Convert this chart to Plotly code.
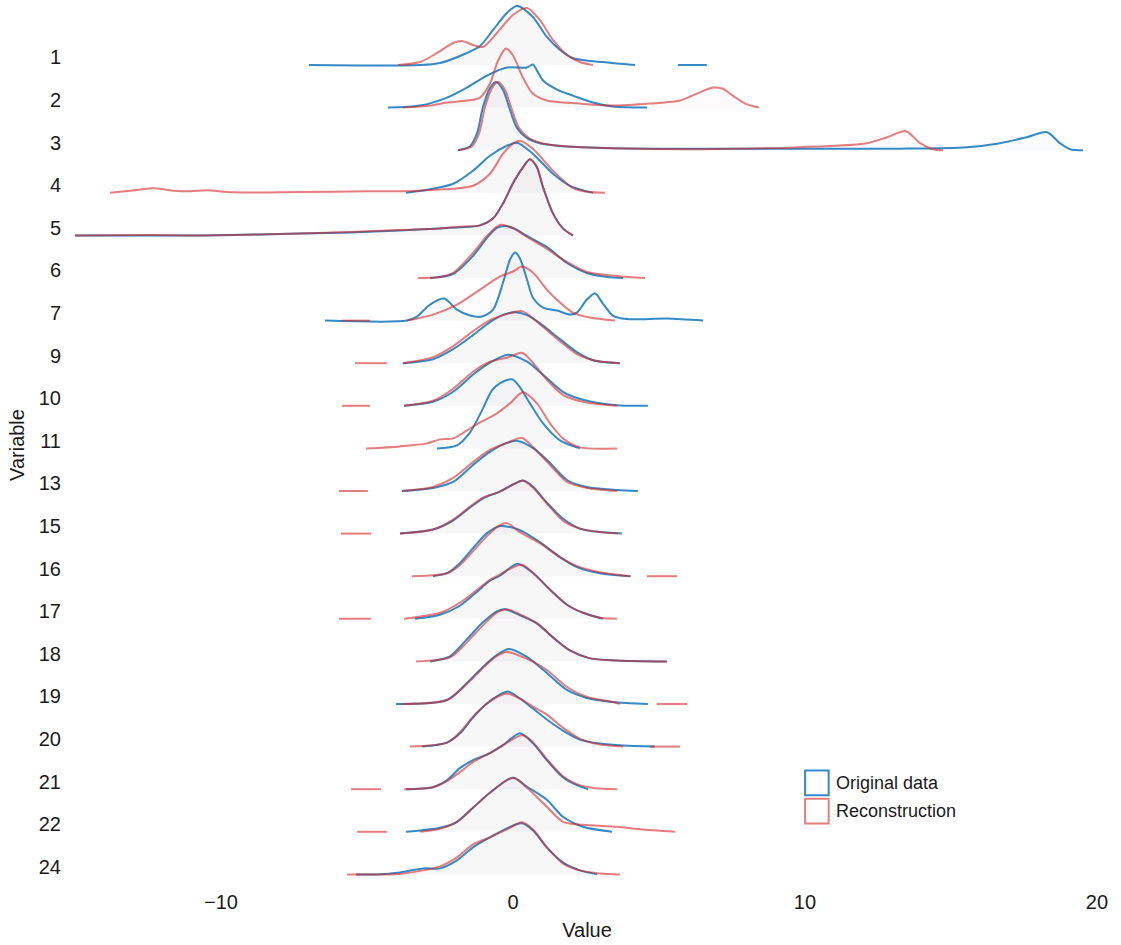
import plotly.graph_objects as go

# ---------------- data ----------------
ROWS = ["1", "2", "3", "4", "5", "6", "7", "9", "10", "11",
        "13", "15", "16", "17", "18", "19", "20", "21", "22", "24"]

X_TICKS = [-10, 0, 10, 20]

# Original data: x positions and density estimates per variable (None = gap)
orig_x = [
    [-6.99, -3.18, -2.50, -1.58, -1.13, -0.68, -0.21, 0.14, 0.68, 1.16, 1.61, 2.05, 2.64, 3.08, 3.56, 4.18, None, 5.65, 6.64],
    [-4.28, -3.18, -2.26, -1.58, -0.89, -0.21, 0.24, 0.48, 0.68, 0.86, 1.03, 1.51, 2.05, 2.74, 3.42, 4.59],
    [-1.88, -1.47, -1.23, -1.03, -0.79, -0.58, -0.34, -0.10, 0.14, 0.48, 0.92, 1.71, 3.42, 7.77, 13.25, 15.55, 16.68, 17.60, 18.29, 18.73, 19.08, 19.52],
    [-3.66, -2.74, -2.05, -1.37, -0.79, -0.21, 0.14, 0.68, 1.37, 1.95, 2.74],
    [-15.0, -12.43, -10.72, -8.66, -7.29, -5.58, -3.87, -2.50, -1.82, -1.13, -0.68, -0.34, 0.0, 0.34, 0.58, 0.82, 1.03, 1.37, 1.71, 2.05],
    [-2.84, -2.05, -1.37, -0.89, -0.55, -0.27, 0.07, 0.48, 1.16, 1.85, 2.53, 3.22, 3.77],
    [-6.44, -3.63, -3.29, -2.84, -2.36, -1.92, -1.47, -1.06, -0.68, -0.34, -0.10, 0.07, 0.24, 0.48, 0.68, 1.03, 1.51, 1.95, 2.19, 2.53, 2.81, 3.08, 3.42, 3.90, 5.27, 6.51],
    [-3.77, -2.74, -2.05, -1.37, -0.79, -0.27, 0.07, 0.48, 0.92, 1.61, 2.19, 2.74, 3.66],
    [-3.73, -2.74, -2.05, -1.37, -0.79, -0.17, 0.48, 1.03, 1.71, 2.40, 3.56, 4.62],
    [-2.60, -1.92, -1.47, -1.06, -0.72, -0.45, -0.03, 0.24, 0.58, 1.03, 1.61, 2.29],
    [-3.80, -2.74, -2.05, -1.37, -0.79, -0.21, 0.17, 0.68, 1.27, 1.85, 2.53, 3.56, 4.28],
    [-3.87, -2.74, -2.05, -1.47, -1.03, -0.45, 0.0, 0.34, 0.68, 1.16, 1.71, 2.29, 2.98, 3.73],
    [-2.74, -2.26, -1.82, -1.37, -0.89, -0.45, -0.10, 0.24, 0.92, 1.61, 2.19, 2.98, 4.01],
    [-3.36, -2.50, -1.82, -1.23, -0.79, -0.45, -0.10, 0.17, 0.68, 1.27, 1.85, 2.40, 3.08],
    [-2.84, -2.16, -1.58, -1.03, -0.55, -0.27, 0.24, 0.82, 1.37, 1.95, 2.64, 3.56, 5.27],
    [-4.01, -2.26, -1.58, -1.03, -0.55, -0.14, 0.48, 1.16, 1.85, 2.53, 3.42, 4.62],
    [-3.12, -2.26, -1.82, -1.37, -0.89, -0.45, -0.17, 0.24, 0.68, 1.16, 1.71, 2.29, 2.98, 3.77, 4.86],
    [-3.66, -2.74, -2.26, -1.82, -1.37, -0.79, -0.34, 0.24, 0.68, 1.16, 1.71, 2.19, 2.57],
    [-3.66, -2.50, -1.92, -1.37, -0.79, 0.0, 0.48, 1.16, 1.71, 2.40, 3.39],
    [-5.38, -4.66, -3.87, -3.08, -2.50, -1.92, -1.37, -0.79, -0.21, 0.31, 0.68, 1.16, 1.71, 2.29, 2.88],
]
orig_d = [
    [0, 0, .02, .12, .19, .35, .52, .59, .48, .28, .15, .07, .04, .03, .015, 0, None, 0, 0],
    [0, .02, .10, .20, .32, .40, .40, .40, .43, .35, .27, .18, .12, .05, .01, 0],
    [0, .04, .17, .43, .62, .68, .60, .40, .22, .12, .07, .04, .02, .015, .015, .03, .07, .13, .18, .07, .01, 0],
    [0, .04, .09, .22, .37, .47, .50, .39, .19, .07, 0],
    [0, 0, 0, .01, .02, .03, .05, .07, .08, .10, .17, .32, .52, .68, .76, .68, .48, .22, .07, 0],
    [0, .04, .22, .40, .50, .52, .49, .42, .31, .15, .05, .01, 0],
    [0, 0, .04, .16, .22, .11, .05, .04, .11, .38, .61, .68, .62, .41, .23, .13, .10, .06, .08, .21, .27, .17, .05, .015, .02, 0],
    [0, .04, .14, .28, .41, .49, .51, .48, .40, .24, .11, .03, 0],
    [0, .04, .14, .31, .43, .51, .44, .31, .14, .06, .005, 0],
    [0, .03, .16, .38, .58, .65, .69, .61, .45, .25, .08, 0],
    [0, .03, .09, .26, .39, .48, .50, .43, .28, .11, .04, .01, 0],
    [0, .04, .13, .26, .35, .42, .49, .53, .47, .31, .15, .05, .015, 0],
    [0, .03, .13, .28, .43, .50, .49, .46, .34, .19, .09, .03, 0],
    [0, .04, .13, .27, .38, .43, .51, .55, .46, .29, .14, .06, 0],
    [0, .05, .22, .39, .50, .52, .46, .38, .24, .11, .03, .01, 0],
    [0, .04, .21, .37, .49, .55, .47, .31, .14, .06, .02, 0],
    [0, .04, .13, .29, .43, .52, .55, .48, .38, .27, .16, .07, .03, .01, 0],
    [0, .02, .09, .21, .29, .36, .44, .56, .46, .29, .12, .04, 0],
    [0, .04, .10, .24, .39, .54, .45, .32, .15, .05, 0],
    [0, 0, .02, .06, .06, .14, .27, .37, .46, .51, .44, .27, .12, .04, 0],
]

# Reconstruction
recon_x = [
    [-3.94, -3.18, -2.60, -2.05, -1.75, -1.37, -1.03, -0.55, 0.0, 0.48, 0.92, 1.37, 1.85, 2.29, 2.74],
    [-3.77, -2.84, -2.26, -1.58, -1.13, -0.79, -0.51, -0.24, 0.0, 0.34, 0.68, 1.16, 2.29, 3.42, 4.69, 5.72, 6.30, 6.85, 7.16, 7.53, 7.95, 8.42],
    [-1.88, -1.40, -1.16, -0.96, -0.72, -0.51, -0.27, -0.03, 0.21, 0.55, 0.99, 1.78, 3.42, 6.40, 9.83, 12.12, 12.81, 13.46, 13.94, 14.38, 14.73],
    [-13.80, -13.12, -12.33, -11.58, -11.06, -10.48, -9.59, -7.29, -5.00, -3.66, -2.74, -2.05, -1.37, -0.79, -0.34, 0.0, 0.24, 0.68, 1.37, 2.05, 2.53, 3.15],
    [-15.0, -12.43, -10.72, -8.66, -7.29, -5.58, -3.87, -2.50, -1.82, -1.13, -0.68, -0.34, 0.0, 0.34, 0.58, 0.82, 1.03, 1.37, 1.71, 2.05],
    [-3.25, -2.50, -2.05, -1.37, -0.89, -0.45, -0.03, 0.48, 1.16, 1.85, 2.53, 3.56, 4.52],
    [-5.86, -4.90, None, -3.63, -2.74, -1.92, -1.13, -0.45, 0.0, 0.31, 0.68, 1.16, 1.61, 2.05, 2.64, 3.49],
    [-5.41, -4.32, None, -3.77, -2.74, -2.05, -1.37, -0.79, -0.21, 0.31, 0.92, 1.61, 2.19, 2.74, 3.66],
    [-5.86, -4.90, None, -3.73, -2.74, -2.05, -1.37, -0.79, -0.21, 0.31, 0.68, 1.16, 1.71, 2.40, 3.56],
    [-5.03, -3.87, -2.95, -2.50, -2.05, -1.58, -1.13, -0.55, -0.10, 0.34, 0.82, 1.27, 1.71, 2.29, 3.56],
    [-5.96, -4.97, None, -3.80, -2.74, -2.05, -1.37, -0.79, -0.21, 0.31, 0.68, 1.27, 1.85, 2.53, 3.56],
    [-5.89, -4.86, None, -3.87, -2.74, -2.05, -1.47, -1.03, -0.45, 0.0, 0.34, 0.68, 1.16, 1.71, 2.29, 2.98, 3.60],
    [-3.46, -2.74, -2.26, -1.82, -1.37, -0.89, -0.55, -0.21, 0.24, 0.92, 1.61, 2.19, 2.98, 4.04, None, 4.59, 5.62],
    [-5.96, -4.86, None, -3.73, -2.50, -1.82, -1.23, -0.79, -0.45, -0.10, 0.31, 0.68, 1.27, 1.85, 2.40, 2.98, 3.56],
    [-3.32, -2.16, -1.58, -1.03, -0.55, -0.21, 0.24, 0.82, 1.37, 1.95, 2.64, 3.56, 5.27],
    [-3.80, -2.26, -1.58, -1.03, -0.55, -0.21, 0.48, 1.16, 1.85, 2.53, 3.42, 3.66, None, 4.93, 5.96],
    [-3.53, -2.26, -1.82, -1.37, -0.89, -0.45, -0.21, 0.24, 0.68, 1.16, 1.71, 2.29, 2.98, 3.77, None, 4.69, 5.72],
    [-5.55, -4.52, None, -3.73, -2.74, -2.26, -1.82, -1.37, -0.79, -0.34, 0.34, 0.68, 1.16, 1.71, 2.19, 2.81, 3.56],
    [-5.34, -4.32, None, -3.18, -2.50, -1.92, -1.37, -0.79, 0.0, 0.48, 1.16, 1.71, 2.40, 3.56, 4.35, 5.55],
    [-5.68, -3.87, -3.08, -2.50, -1.92, -1.37, -0.79, -0.21, 0.31, 0.68, 1.16, 1.71, 2.29, 2.98, 3.66],
]
recon_d = [
    [0, .03, .12, .22, .24, .20, .18, .32, .50, .57, .45, .25, .10, .03, 0],
    [0, .02, .05, .07, .10, .24, .47, .59, .52, .30, .14, .07, .04, .02, .04, .07, .14, .20, .19, .12, .04, 0],
    [0, .04, .17, .43, .62, .68, .60, .40, .22, .12, .07, .04, .02, .01, .03, .07, .13, .19, .07, .01, 0],
    [0, .02, .045, .02, .015, .025, .005, .008, .015, .015, .03, .04, .07, .19, .39, .49, .52, .44, .22, .05, .01, 0],
    [0, .005, 0, .01, .02, .035, .055, .07, .085, .10, .17, .32, .52, .68, .76, .68, .48, .22, .07, 0],
    [0, .01, .05, .25, .42, .53, .50, .41, .29, .16, .06, .02, 0],
    [0, 0, None, 0, .06, .16, .31, .44, .49, .54, .48, .31, .18, .08, .03, 0],
    [0, 0, None, 0, .06, .17, .32, .43, .49, .52, .39, .22, .09, .03, 0],
    [0, 0, None, 0, .05, .17, .34, .44, .48, .53, .43, .26, .11, .04, 0],
    [0, .02, .05, .09, .10, .18, .26, .35, .45, .56, .45, .25, .10, .01, 0],
    [0, 0, None, 0, .04, .13, .29, .41, .48, .53, .44, .26, .09, .03, 0],
    [0, 0, None, 0, .04, .14, .27, .36, .42, .49, .53, .46, .30, .13, .05, .015, 0],
    [0, .01, .03, .11, .25, .40, .49, .53, .44, .33, .19, .10, .04, 0, None, 0, 0],
    [0, 0, None, 0, .06, .16, .29, .39, .44, .50, .54, .46, .29, .14, .06, .01, 0],
    [0, .04, .19, .36, .49, .52, .47, .38, .24, .11, .03, .01, 0],
    [0, .04, .20, .36, .48, .52, .45, .34, .17, .07, .02, 0, None, 0, 0],
    [0, .04, .14, .30, .43, .51, .53, .48, .40, .32, .19, .08, .02, 0, None, 0, 0],
    [0, 0, None, 0, .02, .08, .17, .27, .36, .44, .54, .47, .30, .13, .05, .01, 0],
    [0, 0, None, 0, .03, .10, .24, .39, .54, .44, .25, .10, .07, .05, .025, 0],
    [0, .005, .04, .08, .17, .30, .37, .45, .52, .45, .27, .11, .04, .01, 0],
]

# ---------------- styling ----------------
BLUE = "rgb(52,138,199)"
RED = "rgba(214,39,40,0.6)"
BLUE_FILL = "rgba(120,140,180,0.035)"
RED_FILL = "rgba(200,130,140,0.03)"
SCALE = 2.35          # density -> row units
FONT = "Arial, Liberation Sans, sans-serif"
TXT = "#1a1a1a"

fig = go.Figure()


def ridge(xs, ds, base):
    ys = [None if d is None else base + d * SCALE for d in ds]
    return xs, ys


def fill_poly(xs, ds, base):
    pts = [(x, d) for x, d in zip(xs, ds) if x is not None]
    px = [p[0] for p in pts]
    py = [base + p[1] * SCALE for p in pts]
    return px + [px[-1], px[0], px[0]], py + [base, base, py[0]]


# faint fills standing in for the jittered raw points
for i in range(len(ROWS)):
    base = -i
    fx, fy = fill_poly(orig_x[i], orig_d[i], base)
    fig.add_trace(go.Scatter(x=fx, y=fy, mode="lines", fill="toself", fillcolor=BLUE_FILL,
                             line=dict(width=0), hoverinfo="skip", showlegend=False))
    fx, fy = fill_poly(recon_x[i], recon_d[i], base)
    fig.add_trace(go.Scatter(x=fx, y=fy, mode="lines", fill="toself", fillcolor=RED_FILL,
                             line=dict(width=0), hoverinfo="skip", showlegend=False))

for i in range(len(ROWS)):
    base = -i
    x, y = ridge(orig_x[i], orig_d[i], base)
    fig.add_trace(go.Scatter(x=x, y=y, mode="lines", name="Original data",
                             line=dict(color=BLUE, width=2, shape="spline", smoothing=0.8),
                             connectgaps=False, showlegend=False))
    x, y = ridge(recon_x[i], recon_d[i], base)
    fig.add_trace(go.Scatter(x=x, y=y, mode="lines", name="Reconstruction",
                             line=dict(color=RED, width=2, shape="spline", smoothing=0.8),
                             connectgaps=False, showlegend=False))

n = len(ROWS)
fig.update_layout(
    width=1121, height=945,
    margin=dict(l=75, r=22, t=5, b=60),
    paper_bgcolor="white", plot_bgcolor="white",
    font=dict(family=FONT, color=TXT, size=20),
    showlegend=False,
)
fig.update_xaxes(range=[-15.0, 20.07], tickvals=X_TICKS, showgrid=False, zeroline=False,
                 showline=False, ticks="", tickfont=dict(size=20), ticklabelstandoff=3,
                 title=dict(text="Value", font=dict(size=20), standoff=10))
fig.update_yaxes(range=[-19.249, 1.408], tickvals=[-i + 0.18 for i in range(n)], ticktext=ROWS,
                 showgrid=False, zeroline=False, showline=False, ticks="",
                 tickfont=dict(size=20), ticklabelstandoff=13,
                 title=dict(text="Variable", font=dict(size=20), standoff=8))

# legend (drawn as outlined squares with labels)
legend_items = [("Original data", BLUE), ("Reconstruction", RED)]
for k, (label, col) in enumerate(legend_items):
    y0 = 0.130 - k * 0.032
    fig.add_shape(type="rect", xref="paper", yref="paper",
                  x0=0.713, x1=0.736, y0=y0 - 0.028, y1=y0,
                  line=dict(color=col, width=2), fillcolor="white")
    fig.add_annotation(xref="paper", yref="paper", x=0.741, y=y0 - 0.014, text=label,
                       showarrow=False, xanchor="left", yanchor="middle",
                       font=dict(size=18, family=FONT, color=TXT))

fig.write_html("out.html")
